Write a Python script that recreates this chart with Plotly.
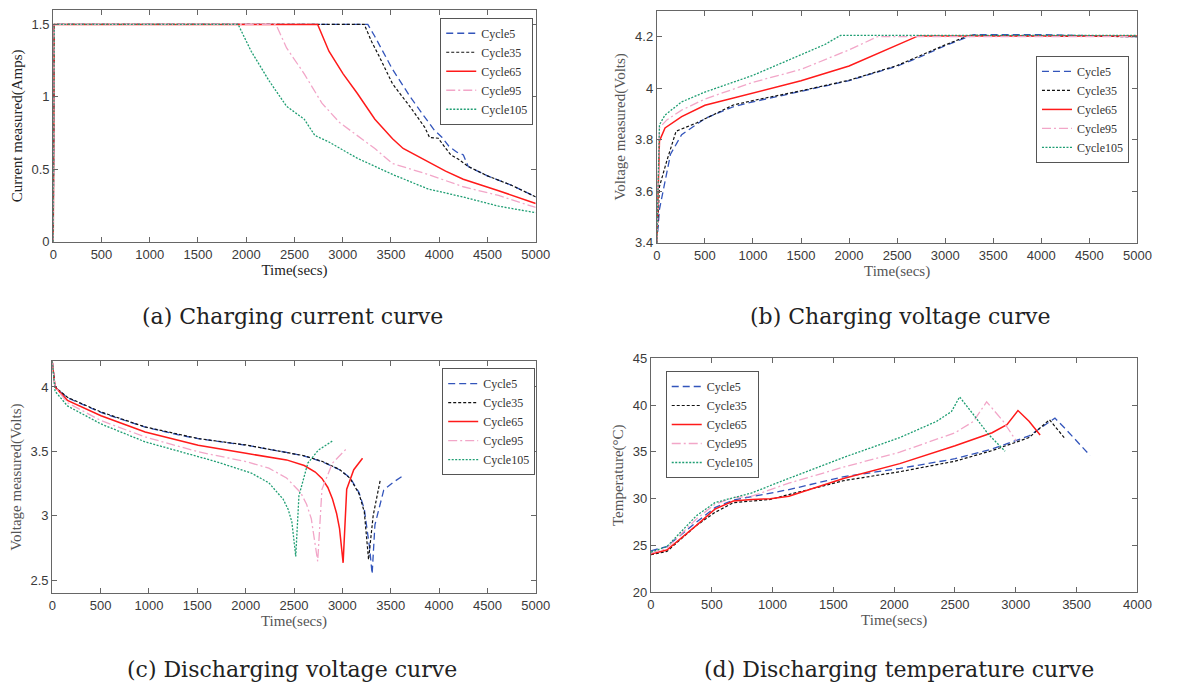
import plotly.graph_objects as go

# ---------------- data ----------------
cycles = ["Cycle5", "Cycle35", "Cycle65", "Cycle95", "Cycle105"]

# (a) charging current, Amps
a_t_c5 = [0, 10, 3260, 3330, 3516, 3700, 3850, 3950, 4030, 4100, 4180, 4250, 4300, 4500, 4750, 5000]
a_i_c5 = [0, 1.5, 1.5, 1.42, 1.19, 1.0, 0.86, 0.77, 0.72, 0.66, 0.62, 0.6, 0.52, 0.455, 0.39, 0.31]
a_t_c35 = [0, 10, 3223, 3300, 3370, 3516, 3700, 3850, 3900, 3990, 4050, 4120, 4200, 4300, 4500, 4750, 5000]
a_i_c35 = [0, 1.5, 1.5, 1.38, 1.29, 1.09, 0.93, 0.79, 0.72, 0.715, 0.66, 0.6, 0.57, 0.52, 0.455, 0.39, 0.31]
a_t_c65 = [0, 10, 2740, 2857, 3004, 3150, 3333, 3516, 3626, 3883, 4066, 4249, 4615, 5000]
a_i_c65 = [0, 1.5, 1.5, 1.315, 1.159, 1.025, 0.846, 0.711, 0.644, 0.555, 0.488, 0.432, 0.353, 0.264]
a_t_c95 = [0, 10, 2308, 2418, 2601, 2784, 2967, 3150, 3333, 3516, 3883, 4249, 4615, 5000]
a_i_c95 = [0, 1.5, 1.5, 1.338, 1.159, 0.957, 0.823, 0.734, 0.644, 0.54, 0.465, 0.38, 0.32, 0.237]
a_t_c105 = [0, 10, 1916, 2051, 2234, 2418, 2601, 2711, 2857, 3150, 3516, 3883, 4249, 4615, 5000]
a_i_c105 = [0, 1.5, 1.5, 1.315, 1.114, 0.935, 0.846, 0.734, 0.689, 0.577, 0.465, 0.365, 0.309, 0.246, 0.201]

# (b) charging voltage, Volts
b_t_c5 = [0, 27, 142, 258, 508, 796, 1000, 1500, 2000, 2500, 2719, 3000, 3250, 3300, 4000, 5000]
b_v_c5 = [3.40, 3.53, 3.744, 3.82, 3.884, 3.928, 3.947, 3.987, 4.029, 4.086, 4.118, 4.165, 4.203, 4.208, 4.208, 4.2]
b_t_c35 = [0, 27, 104, 200, 412, 796, 1000, 1500, 2000, 2500, 3000, 3250, 5000]
b_v_c35 = [3.40, 3.618, 3.719, 3.833, 3.865, 3.935, 3.952, 3.99, 4.031, 4.088, 4.168, 4.205, 4.2]
b_t_c65 = [0, 27, 85, 258, 500, 1000, 1500, 2000, 2500, 2719, 5000]
b_v_c65 = [3.40, 3.795, 3.846, 3.89, 3.934, 3.982, 4.029, 4.086, 4.168, 4.203, 4.203]
b_t_c95 = [0, 27, 104, 258, 500, 1000, 1500, 2000, 2296, 5000]
b_v_c95 = [3.40, 3.846, 3.877, 3.915, 3.958, 4.023, 4.073, 4.149, 4.2, 4.2]
b_t_c105 = [0, 27, 85, 258, 500, 1000, 1250, 1500, 1750, 1912, 5000]
b_v_c105 = [3.40, 3.858, 3.896, 3.947, 3.985, 4.05, 4.09, 4.13, 4.17, 4.205, 4.205]

# (c) discharging voltage, Volts
c_t_c5 = [0, 29, 157, 504, 961, 1327, 1509, 2003, 2423, 2606, 2789, 2971, 3081, 3173, 3227, 3282, 3308, 3337, 3428, 3519, 3629]
c_v_c5 = [4.2, 4.0, 3.916, 3.802, 3.688, 3.624, 3.599, 3.548, 3.492, 3.464, 3.421, 3.358, 3.294, 3.18, 3.053, 2.75, 2.548, 2.93, 3.2, 3.256, 3.312]
c_t_c35 = [0, 29, 157, 504, 961, 1327, 1509, 2003, 2423, 2606, 2789, 2971, 3081, 3173, 3227, 3271, 3319, 3392]
c_v_c35 = [4.2, 4.0, 3.92, 3.806, 3.69, 3.626, 3.6, 3.55, 3.494, 3.466, 3.423, 3.36, 3.29, 3.17, 3.03, 2.66, 3.003, 3.277]
c_t_c65 = [0, 29, 157, 504, 961, 1509, 2003, 2423, 2606, 2720, 2789, 2850, 2898, 2940, 2971, 3008, 3045, 3118, 3209]
c_v_c65 = [4.2, 4.0, 3.896, 3.777, 3.65, 3.548, 3.485, 3.434, 3.39, 3.34, 3.29, 3.22, 3.13, 3.02, 2.901, 2.635, 3.206, 3.358, 3.447]
c_t_c95 = [0, 29, 157, 504, 961, 1509, 2003, 2240, 2423, 2569, 2630, 2679, 2745, 2789, 2898, 3045]
c_v_c95 = [4.2, 4.0, 3.878, 3.739, 3.612, 3.497, 3.421, 3.37, 3.294, 3.18, 3.09, 2.977, 2.647, 3.206, 3.409, 3.523]
c_t_c105 = [0, 29, 157, 504, 961, 1327, 1692, 2058, 2240, 2387, 2440, 2478, 2518, 2551, 2643, 2752, 2898]
c_v_c105 = [4.2, 3.967, 3.853, 3.713, 3.574, 3.497, 3.421, 3.332, 3.256, 3.13, 3.05, 2.952, 2.685, 3.155, 3.409, 3.51, 3.581]

# (d) discharging temperature, deg C
d_t_c5 = [0, 131, 374, 526, 678, 830, 1134, 1590, 2046, 2501, 2805, 3109, 3322, 3413, 3611]
d_T_c5 = [24.42, 24.87, 27.48, 29.04, 29.84, 30.19, 30.96, 32.35, 33.22, 34.26, 35.3, 36.7, 38.6, 37.39, 34.6]
d_t_c35 = [0, 131, 374, 526, 678, 982, 1134, 1590, 2046, 2501, 2805, 3109, 3277, 3398]
d_T_c35 = [24.0, 24.35, 27.13, 28.52, 29.57, 29.91, 30.43, 31.93, 32.87, 34.0, 35.13, 36.52, 38.43, 36.52]
d_t_c65 = [0, 131, 374, 526, 678, 830, 982, 1134, 1590, 2046, 2501, 2805, 2927, 3018, 3109, 3200]
d_T_c65 = [24.07, 24.5, 27.13, 28.87, 29.74, 29.91, 29.98, 30.26, 32.17, 33.74, 35.65, 37.04, 37.91, 39.41, 38.26, 36.8]
d_t_c95 = [0, 131, 374, 526, 678, 830, 1134, 1590, 2046, 2501, 2653, 2760, 2897, 3003]
d_T_c95 = [24.17, 24.7, 27.83, 29.39, 30.09, 30.26, 31.65, 33.39, 34.96, 37.04, 38.26, 40.35, 38.26, 36.17]
d_t_c105 = [0, 131, 374, 526, 678, 830, 1134, 1590, 2046, 2349, 2471, 2538, 2653, 2775, 2912]
d_T_c105 = [24.28, 24.87, 28.17, 29.57, 30.09, 30.61, 32.17, 34.43, 36.52, 38.26, 39.3, 40.87, 38.96, 36.87, 35.06]

captions = ["(a) Charging current curve", "(b) Charging voltage curve",
            "(c) Discharging voltage curve", "(d) Discharging temperature curve"]

# ---------------- styling ----------------
W, H = 1177, 697
styles = [
    dict(color="#3355bb", width=1.3, dash="7px,4px"),
    dict(color="#111111", width=1.2, dash="3px,2px"),
    dict(color="#ff1a1a", width=1.5, dash="solid"),
    dict(color="#f2a6c8", width=1.3, dash="9px,3px,2px,3px"),
    dict(color="#1f9e73", width=1.3, dash="2px,1.5px"),
]

def px_x(p):
    return p / W

def px_y(p):
    return 1 - p / H

panels = [
    dict(series=[(a_t_c5, a_i_c5), (a_t_c35, a_i_c35), (a_t_c65, a_i_c65), (a_t_c95, a_i_c95), (a_t_c105, a_i_c105)],
         xdom=(50, 540), ydom=(3, 240), xrange=[0, 5000], yrange=[0, 1.6],
         yticks=[0, 0.5, 1, 1.5], ytext=["0", "0.5", "1", "1.5"], xmax=5000,
         ytitle="Current measured(Amps)", tcol="#222", legend=(443, 11)),
    dict(series=[(b_t_c5, b_v_c5), (b_t_c35, b_v_c35), (b_t_c65, b_v_c65), (b_t_c95, b_v_c95), (b_t_c105, b_v_c105)],
         xdom=(663, 1151), ydom=(4, 241), xrange=[0, 5000], yrange=[3.4, 4.3],
         yticks=[3.4, 3.6, 3.8, 4.0, 4.2], ytext=["3.4", "3.6", "3.8", "4", "4.2"], xmax=5000,
         ytitle="Voltage measured(Volts)", tcol="#555", legend=(1048, 50)),
    dict(series=[(c_t_c5, c_v_c5), (c_t_c35, c_v_c35), (c_t_c65, c_v_c65), (c_t_c95, c_v_c95), (c_t_c105, c_v_c105)],
         xdom=(49, 540), ydom=(362, 599), xrange=[0, 5000], yrange=[2.4, 4.2],
         yticks=[2.5, 3, 3.5, 4], ytext=["2.5", "3", "3.5", "4"], xmax=5000,
         ytitle="Voltage measured(Volts)", tcol="#555", legend=(445, 369)),
    dict(series=[(d_t_c5, d_T_c5), (d_t_c35, d_T_c35), (d_t_c65, d_T_c65), (d_t_c95, d_T_c95), (d_t_c105, d_T_c105)],
         xdom=(657, 1151), ydom=(359, 598), xrange=[0, 4000], yrange=[20, 45],
         yticks=[20, 25, 30, 35, 40, 45], ytext=["20", "25", "30", "35", "40", "45"], xmax=4000,
         ytitle="Temperature(°C)", tcol="#555", legend=(672, 372)),
]
caption_pos = [(293, 316), (910, 316), (292, 677), (909, 677)]

fig = go.Figure()
layout = dict(width=W, height=H, margin=dict(l=0, r=0, t=0, b=0),
              paper_bgcolor="white", plot_bgcolor="white", showlegend=True)

axis_common = dict(showline=True, linecolor="#666", linewidth=1.2, mirror="ticks",
                   ticks="inside", ticklen=5, tickcolor="#666", tickwidth=1,
                   showgrid=False, zeroline=False,
                   tickfont=dict(family="Liberation Sans, Arial", size=13, color="#3a3a3a"))

for k, p in enumerate(panels):
    n = "" if k == 0 else str(k + 1)
    leg = "legend" + n
    for name, (t, v), st in zip(cycles, p["series"], styles):
        fig.add_trace(go.Scatter(x=t, y=v, mode="lines", name=name, line=st,
                                 xaxis="x" + n, yaxis="y" + n, legend=leg))
    title_font = dict(family="Liberation Serif, Times New Roman", size=15, color=p["tcol"])
    layout["xaxis" + n] = dict(axis_common, domain=[px_x(p["xdom"][0]), px_x(p["xdom"][1])],
                               range=p["xrange"], anchor="y" + n,
                               tickvals=list(range(0, p["xmax"] + 1, 500)),
                               title=dict(text="Time(secs)", font=title_font, standoff=3))
    layout["yaxis" + n] = dict(axis_common, domain=[px_y(p["ydom"][1]), px_y(p["ydom"][0])],
                               range=p["yrange"], anchor="x" + n,
                               tickvals=p["yticks"], ticktext=p["ytext"],
                               title=dict(text=p["ytitle"], font=title_font, standoff=5))
    lx, ly = p["legend"]
    layout[leg] = dict(x=px_x(lx), y=px_y(ly), xanchor="left", yanchor="top",
                       bgcolor="white", bordercolor="#555", borderwidth=1,
                       font=dict(family="Liberation Serif, Times New Roman", size=12, color="#333"),
                       itemwidth=30, tracegroupgap=0)

annotations = []
for text, (cx, cy) in zip(captions, caption_pos):
    annotations.append(dict(text=text, x=px_x(cx), y=px_y(cy), xref="paper", yref="paper",
                            xanchor="center", yanchor="middle", showarrow=False,
                            font=dict(family="DejaVu Serif", size=22, color="#222")))
layout["annotations"] = annotations

fig.update_layout(**layout)
fig.write_html("out.html")
